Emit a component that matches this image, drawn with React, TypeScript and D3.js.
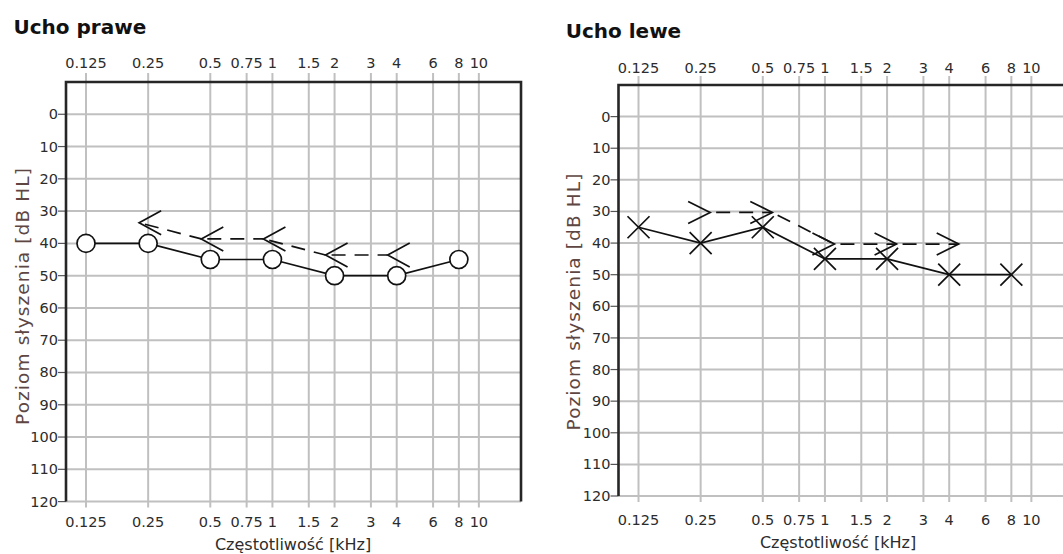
import React from "react";
import * as d3 from "d3";

// Frequency axis (kHz) and hearing level axis (dB HL)
const TICK_FREQS = [0.125, 0.25, 0.5, 0.75, 1, 1.5, 2, 3, 4, 6, 8, 10];
const TICK_FREQ_LABELS = ["0.125", "0.25", "0.5", "0.75", "1", "1.5", "2", "3", "4", "6", "8", "10"];
const LEVEL_TICKS = [0, 10, 20, 30, 40, 50, 60, 70, 80, 90, 100, 110, 120];
const LEVEL_GRID = [-10, ...LEVEL_TICKS];

// Measured thresholds
const AIR_FREQS = [0.125, 0.25, 0.5, 1, 2, 4, 8];
const BONE_FREQS = [0.25, 0.5, 1, 2, 4];

const RIGHT_EAR_AIR = [40, 40, 45, 45, 50, 50, 45];
const RIGHT_EAR_BONE = [35, 40, 40, 45, 45];
const LEFT_EAR_AIR = [35, 40, 35, 45, 45, 50, 50];
const LEFT_EAR_BONE = [30, 30, 40, 40, 40];

const X_TITLE = "Częstotliwość [kHz]";
const Y_TITLE = "Poziom słyszenia [dB HL]";

const FONT = "'DejaVu Sans', Verdana, sans-serif";
const GRID = "#c0c0c0";
const FRAME = "#262626";
const TEXT = "#2c2c2c";
const INK = "#111";

type Ear = "right" | "left";

interface PanelProps {
  title: string;
  ear: Ear;
  air: number[];
  bone: number[];
  titleX: number;
  titleY: number;
  x0: number;
  x1: number;
  y0: number;
  y1: number;
  topLabelY: number;
  bottomLabelY: number;
  xTitleX: number;
  xTitleY: number;
  yTitleX: number;
  yTitleY: number;
}

function Panel(p: PanelProps) {
  const x = d3.scaleLog().domain([0.1, 16]).range([p.x0, p.x1]);
  const y = d3.scaleLinear().domain([-10, 120]).range([p.y0, p.y1]);
  const line = d3.line<[number, number]>().x((d) => d[0]).y((d) => d[1]);

  const airPts: [number, number][] = AIR_FREQS.map((f, i) => [x(f), y(p.air[i])]);

  // bone conduction symbols: "<" for the right ear, ">" for the left ear
  const isRight = p.ear === "right";
  const vertexDx = isRight ? -9 : 9.5; // tip of the chevron relative to the frequency line
  const armLen = isRight ? 22 : -22; // horizontal reach of the two arms from the tip
  const half = isRight ? 12 : 11;
  const nudge = isRight ? -4.5 : 1;
  const bonePts: [number, number][] = BONE_FREQS.map((f, i) => [x(f) + vertexDx, y(p.bone[i]) + nudge]);

  return (
    <g>
      <text x={p.titleX} y={p.titleY} fontFamily={FONT} fontWeight="bold" fontSize={20} fill="#111">
        {p.title}
      </text>

      {/* grid */}
      {TICK_FREQS.map((f) => (
        <line key={"v" + f} x1={x(f)} x2={x(f)} y1={p.y0 - 9} y2={p.y1 + 6} stroke={GRID} strokeWidth={2} />
      ))}
      {LEVEL_GRID.map((v) => (
        <line key={"h" + v} x1={p.x0} x2={p.x1} y1={y(v)} y2={y(v)} stroke={GRID} strokeWidth={2} />
      ))}

      {/* level ticks and labels */}
      {LEVEL_TICKS.map((v) => (
        <g key={"yt" + v}>
          <line x1={p.x0 - 8} x2={p.x0} y1={y(v)} y2={y(v)} stroke="#555" strokeWidth={1.2} />
          <text x={p.x0 - 8} y={y(v) + 5} textAnchor="end" fontFamily={FONT} fontSize={14.5} fill={TEXT}>
            {v}
          </text>
        </g>
      ))}

      {/* frequency labels above and below */}
      {TICK_FREQS.map((f, i) => (
        <g key={"xt" + f}>
          <text x={x(f)} y={p.topLabelY} textAnchor="middle" fontFamily={FONT} fontSize={14.5} fill={TEXT}>
            {TICK_FREQ_LABELS[i]}
          </text>
          <text x={x(f)} y={p.bottomLabelY} textAnchor="middle" fontFamily={FONT} fontSize={14.5} fill={TEXT}>
            {TICK_FREQ_LABELS[i]}
          </text>
        </g>
      ))}

      {/* frame */}
      <path d={`M${p.x0},${p.y1}V${p.y0}H${p.x1}V${p.y1}`} fill="none" stroke={FRAME} strokeWidth={2.6} />

      {/* axis titles */}
      <text x={p.xTitleX} y={p.xTitleY} textAnchor="middle" fontFamily={FONT} fontSize={16} fill={TEXT}>
        {X_TITLE}
      </text>
      <text
        transform={`translate(${p.yTitleX},${p.yTitleY}) rotate(-90)`}
        textAnchor="middle"
        dy={7}
        fontFamily={FONT}
        fontSize={18.5}
        letterSpacing={1.1}
        fill="#5e4642"
      >
        {Y_TITLE}
      </text>

      {/* bone conduction: dashed connectors between chevron tips */}
      {bonePts.slice(1).map((pt, i) => (
        <path
          key={"bd" + i}
          d={line([bonePts[i], pt]) || ""}
          fill="none"
          stroke={INK}
          strokeWidth={1.7}
          strokeDasharray="14 9"
          strokeDashoffset={17}
        />
      ))}
      {bonePts.map(([vx, vy], i) => (
        <path
          key={"bm" + i}
          d={`M${vx + armLen},${vy - half}L${vx},${vy}L${vx + armLen},${vy + half}`}
          fill="none"
          stroke={INK}
          strokeWidth={1.7}
        />
      ))}

      {/* air conduction: solid line */}
      <path d={line(airPts) || ""} fill="none" stroke={INK} strokeWidth={1.7} />
      {airPts.map(([cx, cy], i) =>
        isRight ? (
          <circle key={"am" + i} cx={cx} cy={cy} r={9} fill="#fff" stroke={INK} strokeWidth={1.7} />
        ) : (
          <path
            key={"am" + i}
            d={`M${cx - 11},${cy - 11}L${cx + 11},${cy + 11}M${cx - 11},${cy + 11}L${cx + 11},${cy - 11}`}
            stroke={INK}
            strokeWidth={1.7}
          />
        )
      )}
    </g>
  );
}

export default function App() {
  return (
    <svg
      width={1063}
      height={554}
      viewBox="0 0 1063 554"
      style={{ position: "fixed", left: 0, top: 0, background: "#fff" }}
    >
      <rect width={1063} height={554} fill="#fff" />
      <Panel
        title="Ucho prawe"
        ear="right"
        air={RIGHT_EAR_AIR}
        bone={RIGHT_EAR_BONE}
        titleX={13.5}
        titleY={33.5}
        x0={66}
        x1={521}
        y0={82}
        y1={501.6}
        topLabelY={68}
        bottomLabelY={527}
        xTitleX={293}
        xTitleY={550}
        yTitleX={22}
        yTitleY={296}
      />
      <Panel
        title="Ucho lewe"
        ear="left"
        air={LEFT_EAR_AIR}
        bone={LEFT_EAR_BONE}
        titleX={565.7}
        titleY={38}
        x0={618.5}
        x1={1073.5}
        y0={85}
        y1={496}
        topLabelY={73}
        bottomLabelY={525}
        xTitleX={838}
        xTitleY={548}
        yTitleX={573}
        yTitleY={301.5}
      />
    </svg>
  );
}
